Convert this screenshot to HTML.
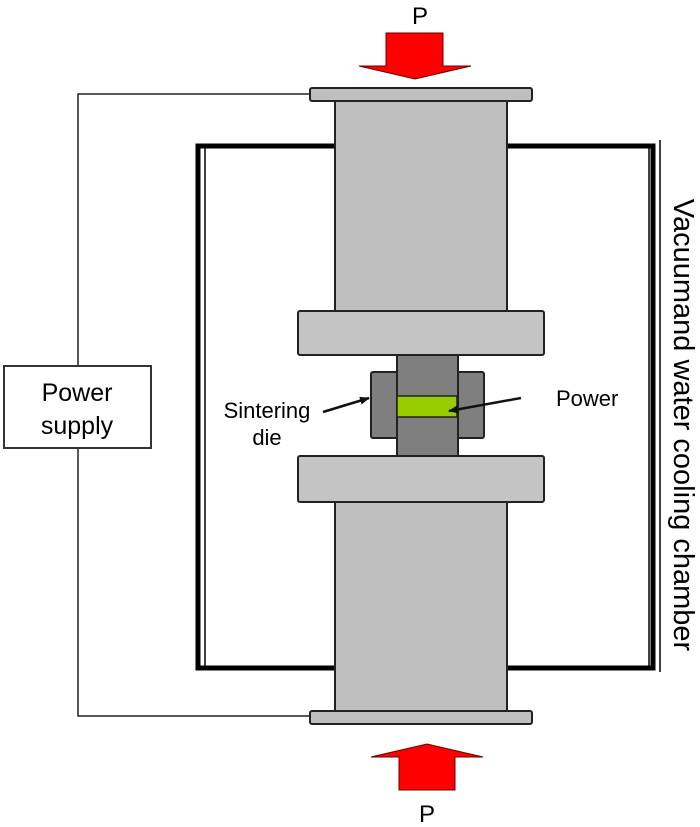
<!DOCTYPE html>
<html><head><style>body{margin:0;background:#fff}svg{display:block}</style></head><body>
<svg width="700" height="827" viewBox="0 0 700 827" xmlns="http://www.w3.org/2000/svg" font-family="Liberation Sans, Arial, sans-serif">
<defs><marker id="ah" markerWidth="10" markerHeight="8" refX="9" refY="4" orient="auto" markerUnits="userSpaceOnUse"><path d="M0,0 L10,4 L0,8 Z" fill="#111"/></marker></defs>
<polyline points="310,94 78,94 78,366" fill="none" stroke="#222" stroke-width="1.5"/>
<polyline points="310,716 78,716 78,448" fill="none" stroke="#222" stroke-width="1.5"/>
<rect x="4" y="366" width="147" height="82" fill="#fff" stroke="#333" stroke-width="2"/>
<text x="77" y="401" font-size="25" text-anchor="middle">Power</text>
<text x="77" y="434" font-size="25" text-anchor="middle">supply</text>
<path d="M335,146 L198,146 L198,668 L335,668" fill="none" stroke="#000" stroke-width="5"/>
<line x1="205" y1="148" x2="205" y2="666" stroke="#000" stroke-width="1.5"/>
<path d="M507,146 L653,146 L653,668 L507,668" fill="none" stroke="#000" stroke-width="5"/>
<line x1="649" y1="148" x2="649" y2="666" stroke="#000" stroke-width="1.5"/>
<line x1="660" y1="140" x2="660" y2="672" stroke="#000" stroke-width="1.5"/>
<text transform="translate(674,425) rotate(90)" font-size="29" text-anchor="middle">Vacuumand water cooling chamber</text>
<rect x="335" y="100" width="172" height="212" fill="#bfbfbf" stroke="#222" stroke-width="2"/>
<rect x="335" y="500" width="172" height="212" fill="#bfbfbf" stroke="#222" stroke-width="2"/>
<rect x="310" y="88" width="222" height="13" rx="2" fill="#bfbfbf" stroke="#222" stroke-width="2"/>
<rect x="310" y="711" width="222" height="13" rx="2" fill="#bfbfbf" stroke="#222" stroke-width="2"/>
<rect x="298" y="311" width="246" height="44" rx="2" fill="#c4c4c4" stroke="#222" stroke-width="2"/>
<rect x="298" y="456" width="246" height="46" rx="2" fill="#c4c4c4" stroke="#222" stroke-width="2"/>
<rect x="371" y="372" width="113" height="66" rx="2" fill="#7f7f7f" stroke="#222" stroke-width="2"/>
<rect x="397" y="355" width="61" height="101" fill="#7f7f7f" stroke="#222" stroke-width="2"/>
<rect x="397" y="396" width="60" height="21" fill="#99cc00" stroke="#222" stroke-width="1.5"/>
<text x="267" y="418" font-size="22" text-anchor="middle">Sintering</text>
<text x="267" y="445" font-size="22" text-anchor="middle">die</text>
<line x1="323" y1="412" x2="369" y2="398" stroke="#111" stroke-width="2.5" marker-end="url(#ah)"/>
<text x="556" y="406" font-size="22">Power</text>
<line x1="521" y1="398" x2="449" y2="411" stroke="#111" stroke-width="2.5" marker-end="url(#ah)"/>
<path d="M386,33 L443,33 L443,66 L471,66 L415,79 L359,66 L386,66 Z" fill="#f00" stroke="#600" stroke-width="1"/>
<path d="M399,790 L455,790 L455,757 L483,757 L427,744 L371,757 L399,757 Z" fill="#f00" stroke="#600" stroke-width="1"/>
<text x="420" y="24" font-size="24" text-anchor="middle">P</text>
<text x="427" y="822" font-size="24" text-anchor="middle">P</text>
</svg>
</body></html>
